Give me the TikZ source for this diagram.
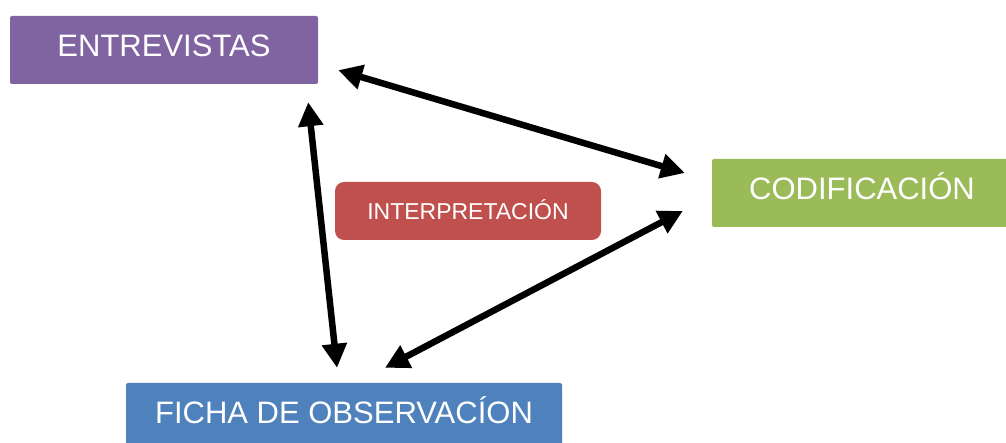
\documentclass[tikz,border=0pt]{standalone}
\usepackage{fontspec}
\setmainfont{Liberation Sans}
\usetikzlibrary{shapes,arrows.meta}
\definecolor{morado}{HTML}{8064A2}
\definecolor{verde}{HTML}{9BBB59}
\definecolor{rojo}{HTML}{C0504D}
\definecolor{azul}{HTML}{4F81BD}

\begin{document}
\begin{tikzpicture}[x=1pt,y=1pt,
  caja/.style={rounded corners=2pt,text=white,inner sep=0pt,minimum height=68pt,
    text height=22pt,text depth=8pt,font=\fontsize{31}{31}\selectfont},
  flecha/.style={<->,line width=6.5pt,>={Triangle[length=24pt,width=24pt]}}]
\useasboundingbox (0,0) rectangle (1006,443);
\node[caja,fill=morado,minimum width=308pt] (E) at (164,393) {ENTREVISTAS};
\node[caja,fill=verde,minimum width=300pt] (C) at (862,250) {CODIFICACIÓN};
\node[caja,fill=azul,minimum width=436pt] (F) at (344,26) {FICHA DE OBSERVACÍON};
\node[caja,fill=rojo,minimum width=266pt,minimum height=58pt,rounded corners=9pt,
  text height=16.5pt,text depth=0pt,font=\fontsize{23}{23}\selectfont] (I) at (468,232) {INTERPRETACIÓN};
\path[flecha]
  ([shift={(20,14)}]E.south east) edge ([shift={(-27,20)}]C.west)
  ([shift={(-10,-18)}]E.south east) edge ([shift={(-7,15)}]F.north)
  ([shift={(41,15)}]F.north) edge ([shift={(-29,-18)}]C.west)
;
\end{tikzpicture}
\end{document}
